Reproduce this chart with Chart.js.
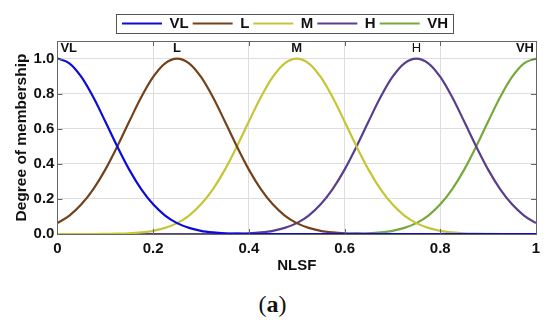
<!DOCTYPE html>
<html>
<head>
<meta charset="utf-8">
<script src="https://cdn.jsdelivr.net/npm/chart.js@4.4.0/dist/chart.umd.min.js"></script>
<style>
  body { margin: 0; background: #fff; }
  #wrap { position: relative; width: 550px; height: 285px; }
  #caption {
    width: 545px; text-align: center; margin-top: 6px;
    font-family: "Liberation Serif", "DejaVu Serif", serif; font-size: 24px; color: #111;
  }
</style>
</head>
<body>
<div id="wrap"><canvas id="chart"></canvas></div>
<div id="caption">(<b>a</b>)</div>
<script>
// NLSF sample points
const nlsf = [0, 0.025, 0.05, 0.075, 0.1, 0.125, 0.15, 0.175, 0.2, 0.225,
  0.25, 0.275, 0.3, 0.325, 0.35, 0.375, 0.4, 0.425, 0.45, 0.475,
  0.5, 0.525, 0.55, 0.575, 0.6, 0.625, 0.65, 0.675, 0.7, 0.725,
  0.75, 0.775, 0.8, 0.825, 0.85, 0.875, 0.9, 0.925, 0.95, 0.975, 1];

// membership degrees
const vl = [1, .973, .895, .779, .641, .499, .367, .256, .169, .105, .062, .035, .018, .009, .004, .002, .001,
  0, 0, 0, 0, 0, 0, 0, 0, 0, 0, 0, 0, 0, 0, 0, 0, 0, 0, 0, 0, 0, 0, 0, 0];
const l = [.062, .105, .169, .256, .367, .499, .641, .779, .895, .973, 1, .973, .895, .779, .641, .499, .367,
  .256, .169, .105, .062, .035, .018, .009, .004, .002, .001,
  0, 0, 0, 0, 0, 0, 0, 0, 0, 0, 0, 0, 0, 0];
const m = [0, 0, 0, 0, .001, .002, .004, .009, .018, .035, .062, .105, .169, .256, .367, .499, .641, .779, .895, .973, 1,
  .973, .895, .779, .641, .499, .367, .256, .169, .105, .062, .035, .018, .009, .004, .002, .001,
  0, 0, 0, 0];
const h = [0, 0, 0, 0, 0, 0, 0, 0, 0, 0, 0, 0, 0, 0,
  .001, .002, .004, .009, .018, .035, .062, .105, .169, .256, .367, .499, .641, .779, .895, .973, 1,
  .973, .895, .779, .641, .499, .367, .256, .169, .105, .062];
const vh = [0, 0, 0, 0, 0, 0, 0, 0, 0, 0, 0, 0, 0, 0, 0, 0, 0, 0, 0, 0, 0, 0, 0, 0,
  .001, .002, .004, .009, .018, .035, .062, .105, .169, .256, .367, .499, .641, .779, .895, .973, 1];

const setNames = ["VL", "L", "M", "H", "VH"];
const setColors = ["#0c0cd6", "#74421a", "#c6c536", "#5a3e8e", "#78a83c"];
const peakX = [0, 0.25, 0.5, 0.75, 1];

const FONT = '"Liberation Sans", Arial, sans-serif';
const LEGEND_SHIFT = 11;

function pairs(ys) {
  return nlsf.map((x, i) => ({ x: x, y: ys[i] }));
}

const series = [vl, l, m, h, vh];

// frame, inward ticks, peak labels, legend border
const decor = {
  id: "decor",
  afterUpdate(chart) {
    // legend sits a little right of centre in the original
    const lg = chart.legend;
    lg.left += LEGEND_SHIFT;
    lg.right += LEGEND_SHIFT;
    lg.legendHitBoxes.forEach(b => { b.left += LEGEND_SHIFT; });
  },
  afterDatasetsDraw(chart) {
    const { ctx, chartArea: a, scales } = chart;
    ctx.save();
    ctx.strokeStyle = "#666";
    ctx.lineWidth = 1;
    ctx.beginPath();
    scales.x.ticks.forEach(t => {
      const px = Math.round(scales.x.getPixelForValue(t.value)) + 0.5;
      ctx.moveTo(px, a.top); ctx.lineTo(px, a.top + 5);
      ctx.moveTo(px, a.bottom); ctx.lineTo(px, a.bottom - 5);
    });
    scales.y.ticks.forEach(t => {
      const py = Math.round(scales.y.getPixelForValue(t.value)) + 0.5;
      ctx.moveTo(a.left, py); ctx.lineTo(a.left + 5, py);
      ctx.moveTo(a.right, py); ctx.lineTo(a.right - 5, py);
    });
    ctx.stroke();
    ctx.strokeRect(Math.round(a.left) + 0.5, Math.round(a.top) + 0.5,
      Math.round(a.width), Math.round(a.height));

    // labels above each peak
    ctx.fillStyle = "#111";
    ctx.textBaseline = "bottom";
    const py = scales.y.getPixelForValue(1) - 4;
    setNames.forEach((name, i) => {
      const px = scales.x.getPixelForValue(peakX[i]);
      ctx.font = (name === "H" ? "" : "bold ") + "13px " + FONT;
      if (i === 0) { ctx.textAlign = "left"; ctx.fillText(name, px + 3, py); }
      else if (i === setNames.length - 1) { ctx.textAlign = "right"; ctx.fillText(name, px - 2, py); }
      else { ctx.textAlign = "center"; ctx.fillText(name, px, py); }
    });

    // border round the legend
    const boxes = chart.legend.legendHitBoxes;
    if (boxes && boxes.length) {
      const first = boxes[0], last = boxes[boxes.length - 1];
      const x0 = Math.round(first.left) - 6, x1 = Math.round(last.left + last.width) + 5;
      const y0 = Math.round(first.top) - 2, y1 = Math.round(first.top + first.height) + 2;
      ctx.strokeStyle = "#555";
      ctx.strokeRect(x0 + 0.5, y0 + 0.5, x1 - x0, y1 - y0);
    }
    ctx.restore();
  }
};

new Chart(document.getElementById("chart"), {
  type: "line",
  data: {
    datasets: series.map((ys, i) => ({
      label: setNames[i],
      data: pairs(ys),
      borderColor: setColors[i],
      backgroundColor: setColors[i],
      borderWidth: 2.2,
      pointRadius: 0,
      cubicInterpolationMode: "monotone",
      fill: false
    }))
  },
  options: {
    responsive: true,
    maintainAspectRatio: false,
    animation: false,
    layout: { padding: { top: 12, right: 14, left: 12, bottom: 10 } },
    plugins: {
      tooltip: { enabled: false },
      legend: {
        position: "top",
        labels: {
          usePointStyle: true,
          pointStyle: "line",
          pointStyleWidth: 40,
          padding: 4,
          color: "#111",
          font: { family: FONT, size: 15, weight: "bold" }
        }
      }
    },
    scales: {
      x: {
        type: "linear",
        min: 0,
        max: 1,
        border: { display: false },
        grid: { color: "#dedede", drawTicks: false },
        ticks: {
          stepSize: 0.2,
          padding: 6,
          color: "#111",
          font: { family: FONT, size: 15, weight: "bold" },
          callback: v => (v === 0 || v === 1) ? String(v) : v.toFixed(1)
        },
        title: {
          display: true, text: "NLSF", color: "#111", padding: { top: -7, bottom: 0 },
          font: { family: FONT, size: 15, weight: "bold" }
        }
      },
      y: {
        min: 0,
        max: 1.1,
        border: { display: false },
        grid: { color: "#dedede", drawTicks: false },
        ticks: {
          stepSize: 0.2,
          includeBounds: false,
          padding: 3,
          color: "#111",
          font: { family: FONT, size: 15, weight: "bold" },
          callback: v => v.toFixed(1)
        },
        title: {
          display: true, text: "Degree of membership", color: "#111", padding: { top: 0, bottom: 0 },
          font: { family: FONT, size: 15.5, weight: "bold" }
        }
      }
    }
  },
  plugins: [decor]
});
</script>
</body>
</html>
